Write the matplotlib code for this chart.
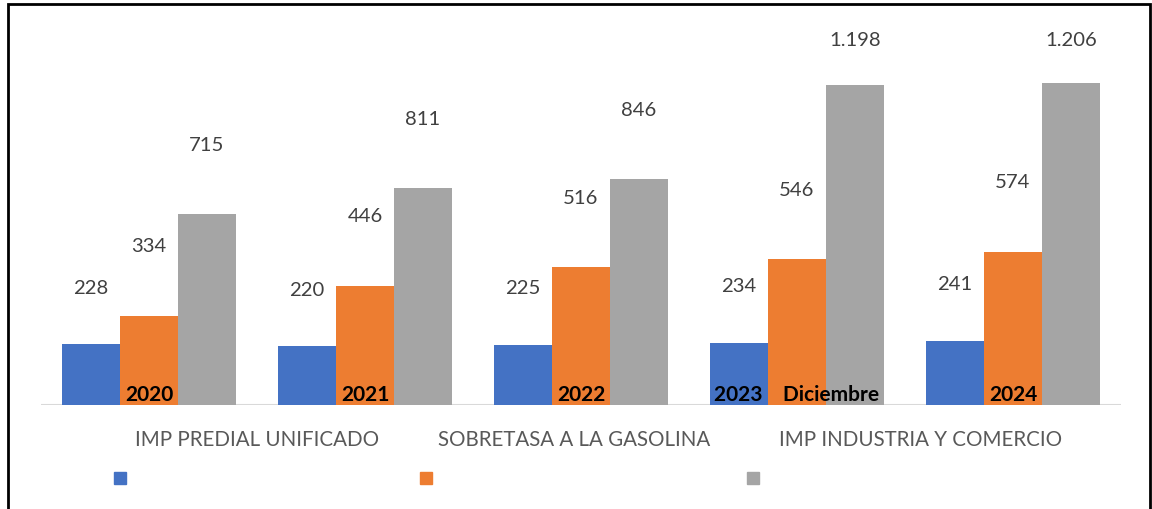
import matplotlib
matplotlib.use("Agg")
import matplotlib.pyplot as plt
from matplotlib.patches import Rectangle
import numpy as np

plt.rcParams['font.family'] = ['Lato', 'DejaVu Sans']

categories = ["2020", "2021", "2022", "2023    Diciembre", "2024"]
series_names = ["IMP PREDIAL UNIFICADO", "SOBRETASA A LA GASOLINA", "IMP INDUSTRIA Y COMERCIO"]
predial = [228, 220, 225, 234, 241]
sobretasa = [334, 446, 516, 546, 574]
industria = [715, 811, 846, 1198, 1206]
colors = ["#4472C4", "#ED7D31", "#A5A5A5"]

W, H = 1152, 510
fig = plt.figure(figsize=(W / 100, H / 100), dpi=100)
ax = fig.add_axes([41 / W, (H - 406) / H, (1121 - 41) / W, (406 - 21) / H])
ax.set_xlim(-0.5, 4.5)
ax.set_ylim(0, 1442)
ax.axis('off')

x = np.arange(len(categories))
bw = 0.2685
series = [predial, sobretasa, industria]
label_off = [57, 70, 70]  # pixels above bar top

def fmt(v):
    return f"{v:,}".replace(",", ".")

for i, (vals, c) in enumerate(zip(series, colors)):
    xs = x + (i - 1) * bw
    ax.bar(xs, vals, width=bw, color=c, zorder=2)
    for xi, v in zip(xs, vals):
        _, ypx = ax.transData.transform((xi, v))
        ypx_lab = min(ypx + label_off[i], H - 41)
        _, yd = ax.transData.inverted().transform((0, ypx_lab))
        ax.text(xi, yd, fmt(v), ha='center', va='center', fontsize=14.6,
                color='#404040', zorder=3)

# baseline
ax.axhline(0, color='#D9D9D9', lw=1.5, zorder=1)

# category labels (inside bars at bottom)
for xi, cat in zip(x, categories):
    ax.annotate(cat, (xi, 0), xytext=(0, 1), textcoords='offset pixels',
                ha='center', va='bottom', fontsize=15, fontweight='bold',
                color='black', zorder=4)

# legend (labels above, markers below)
lab_x = [257, 574, 921]
mark_x = [120, 426, 753]
for name, c, lx, mx in zip(series_names, colors, lab_x, mark_x):
    fig.text(lx / W, 1 - 440 / H, name, ha='center', va='center',
             fontsize=14.8, color='#595959')
    fig.add_artist(Rectangle(((mx - 6) / W, 1 - 485 / H), 12 / W, 12 / H,
                             transform=fig.transFigure, color=c))

# outer border
fig.add_artist(Rectangle((8 / W, -0.05), (1150 - 8) / W, 1.05 - 5 / H,
                         transform=fig.transFigure, fill=False,
                         edgecolor='black', lw=2))

fig.savefig("out.png", dpi=100)
